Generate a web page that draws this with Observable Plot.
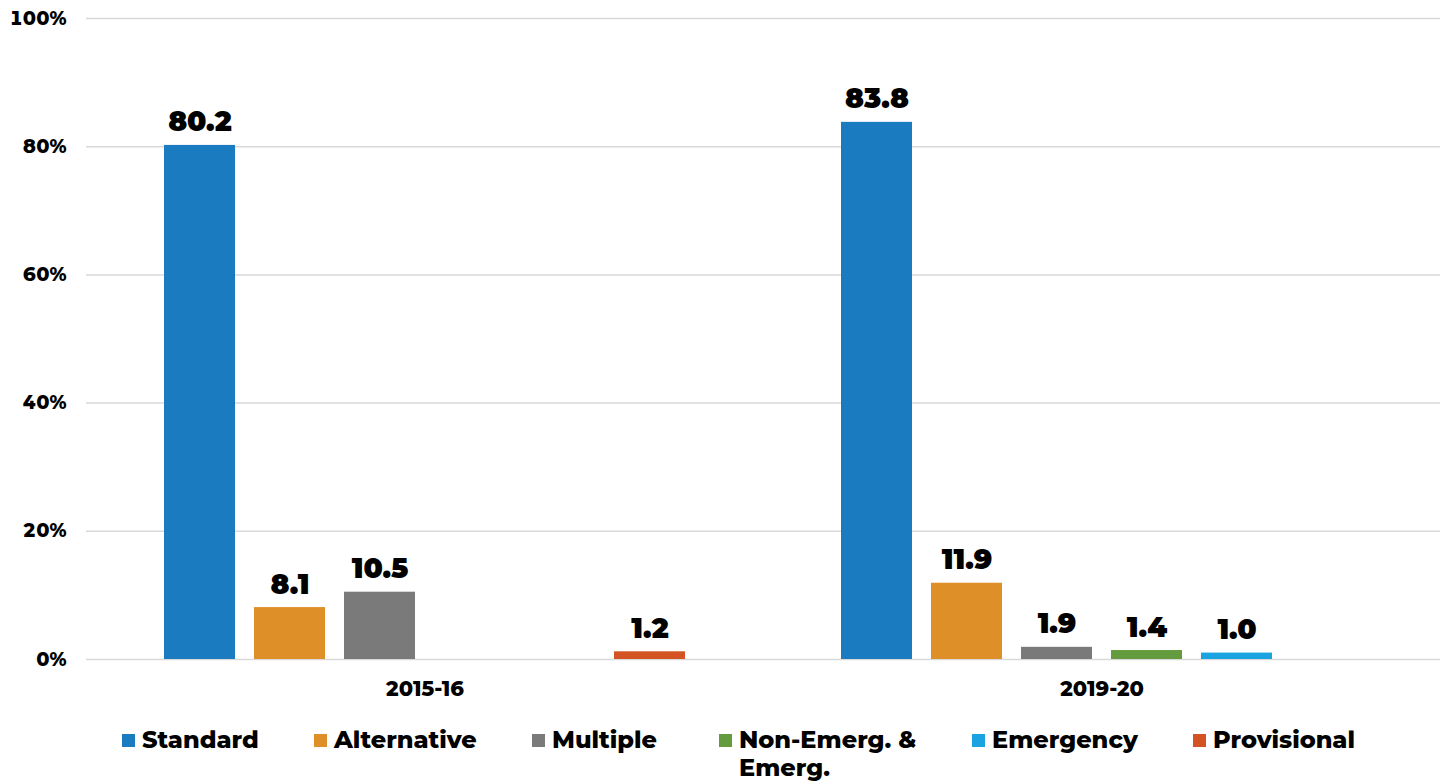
<!DOCTYPE html>
<html>
<head>
<meta charset="utf-8">
<script src="https://cdn.jsdelivr.net/npm/d3@7"></script>
<script src="https://cdn.jsdelivr.net/npm/@observablehq/plot@0.6"></script>
<style>
  html, body { margin: 0; padding: 0; background: #fff; }
  body { width: 1448px; height: 781px; overflow: hidden; position: relative; font-family: Montserrat, "Open Sans", Lato, sans-serif; }
  #legend { position: absolute; left: 0; top: 726px; width: 1448px; height: 55px; }
  .item { position: absolute; top: 0; display: flex; align-items: flex-start; font-weight: 800; font-size: 24px; line-height: 28px; color: #000; }
  .sw { width: 13px; height: 13px; margin-top: 8px; margin-right: 7px; flex: none; }
</style>
</head>
<body>
<div id="chart"></div>
<div id="legend"></div>
<script>
const years = ["2015-16", "2019-20"];
const series = ["Standard", "Alternative", "Multiple", "Non-Emerg. & Emerg.", "Emergency", "Provisional"];
const colors = ["#1b7bc0", "#de8f28", "#7a7a7a", "#659b3f", "#1aa3e0", "#d35422"];
// null = no bar in the reference
const values2015 = [80.2, 8.1, 10.5, null, null, 1.2];
const values2019 = [83.8, 11.9, 1.9, 1.4, 1.0, null];
const yTicks = [0, 20, 40, 60, 80, 100];

const data = [];
[values2015, values2019].forEach((vals, i) => {
  vals.forEach((v, j) => { if (v != null) data.push({year: years[i], series: series[j], value: v}); });
});

const font = 'Montserrat, "Open Sans", Lato, sans-serif';
const chart = Plot.plot({
  width: 1448,
  height: 708,
  marginLeft: 85,
  marginRight: 8,
  marginTop: 18,
  marginBottom: 49,
  style: {fontFamily: font, fontWeight: 800, fontSize: "19px", color: "#000", background: "#fff"},
  fx: {domain: years, padding: 0, label: null, axis: null},
  x: {domain: series, paddingInner: 0.21, paddingOuter: 0.84, axis: null},
  y: {domain: [0, 100], ticks: yTicks, label: null},
  color: {domain: series, range: colors},
  marks: [
    Plot.gridY(yTicks, {stroke: "#d9d9d9", strokeOpacity: 1, strokeWidth: 1.5}),
    Plot.axisY(yTicks, {tickSize: 0, tickPadding: 20, tickFormat: d => d + "%", fontSize: 19, fontWeight: 800, label: null}),
    Plot.text(years, {fx: d => d, text: d => d, frameAnchor: "bottom", lineAnchor: "middle", dy: 30, fontSize: 21, fontWeight: 800, fill: "#000"}),
    Plot.barY(data, {fx: "year", x: "series", y: "value", fill: "series"}),
    Plot.text(data, {fx: "year", x: "series", y: "value", text: d => d.value.toFixed(1), lineAnchor: "bottom", dy: -14, fontSize: 28, fontWeight: 900, fill: "#000"})
  ]
});
document.getElementById("chart").appendChild(chart);

const legendLeft = [122, 314, 532, 719, 972, 1193];
const legendLabels = ["Standard", "Alternative", "Multiple", "Non-Emerg. &<br>Emerg.", "Emergency", "Provisional"];
const legend = document.getElementById("legend");
series.forEach((s, i) => {
  const it = document.createElement("div");
  it.className = "item";
  it.style.left = legendLeft[i] + "px";
  it.innerHTML = `<span class="sw" style="background:${colors[i]}"></span><span>${legendLabels[i]}</span>`;
  legend.appendChild(it);
});
</script>
</body>
</html>
